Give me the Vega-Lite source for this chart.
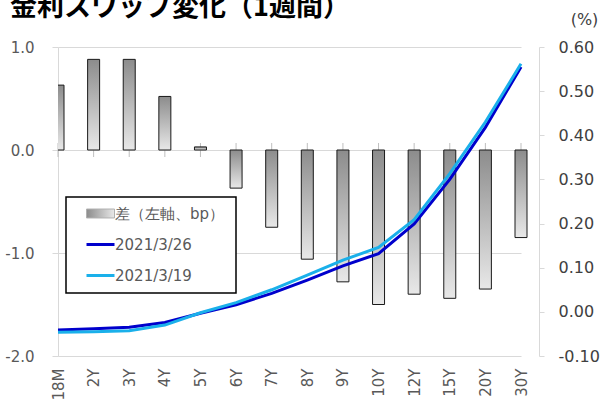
{
  "$schema": "https://vega.github.io/schema/vega-lite/v6.json",
  "width": 481,
  "height": 309,
  "autosize": "none",
  "padding": {"left": 58, "top": 47, "right": 75, "bottom": 45},
  "background": "white",
  "title": {
    "text": "金利スワップ変化（1週間）",
    "anchor": "start",
    "frame": "group",
    "font": "Noto Sans CJK JP",
    "fontSize": 27,
    "fontWeight": "bold",
    "color": "#000000",
    "baseline": "alphabetic",
    "dx": -48,
    "dy": 32,
    "offset": 0
  },
  "config": {
    "view": {"stroke": null},
    "font": "DejaVu Sans",
    "locale": {"number": {"decimal": ".", "thousands": ",", "grouping": [3], "currency": ["$", ""], "minus": "-"}}
  },
  "datasets": {
    "bars": [
      {"tenor": "18M", "diff": 0.63},
      {"tenor": "2Y", "diff": 0.88},
      {"tenor": "3Y", "diff": 0.88},
      {"tenor": "4Y", "diff": 0.52},
      {"tenor": "5Y", "diff": 0.03},
      {"tenor": "6Y", "diff": -0.37},
      {"tenor": "7Y", "diff": -0.75},
      {"tenor": "8Y", "diff": -1.06},
      {"tenor": "9Y", "diff": -1.28},
      {"tenor": "10Y", "diff": -1.5},
      {"tenor": "12Y", "diff": -1.4},
      {"tenor": "15Y", "diff": -1.44},
      {"tenor": "20Y", "diff": -1.35},
      {"tenor": "30Y", "diff": -0.85}
    ],
    "lines": [
      {"tenor": "18M", "series": "2021/3/26", "rate": -0.041},
      {"tenor": "2Y", "series": "2021/3/26", "rate": -0.038},
      {"tenor": "3Y", "series": "2021/3/26", "rate": -0.035},
      {"tenor": "4Y", "series": "2021/3/26", "rate": -0.024},
      {"tenor": "5Y", "series": "2021/3/26", "rate": -0.003},
      {"tenor": "6Y", "series": "2021/3/26", "rate": 0.016},
      {"tenor": "7Y", "series": "2021/3/26", "rate": 0.042},
      {"tenor": "8Y", "series": "2021/3/26", "rate": 0.072},
      {"tenor": "9Y", "series": "2021/3/26", "rate": 0.104},
      {"tenor": "10Y", "series": "2021/3/26", "rate": 0.132},
      {"tenor": "12Y", "series": "2021/3/26", "rate": 0.199},
      {"tenor": "15Y", "series": "2021/3/26", "rate": 0.3},
      {"tenor": "20Y", "series": "2021/3/26", "rate": 0.418},
      {"tenor": "30Y", "series": "2021/3/26", "rate": 0.555},
      {"tenor": "18M", "series": "2021/3/19", "rate": -0.046},
      {"tenor": "2Y", "series": "2021/3/19", "rate": -0.045},
      {"tenor": "3Y", "series": "2021/3/19", "rate": -0.043},
      {"tenor": "4Y", "series": "2021/3/19", "rate": -0.03},
      {"tenor": "5Y", "series": "2021/3/19", "rate": -0.002},
      {"tenor": "6Y", "series": "2021/3/19", "rate": 0.021},
      {"tenor": "7Y", "series": "2021/3/19", "rate": 0.05},
      {"tenor": "8Y", "series": "2021/3/19", "rate": 0.083},
      {"tenor": "9Y", "series": "2021/3/19", "rate": 0.117},
      {"tenor": "10Y", "series": "2021/3/19", "rate": 0.146},
      {"tenor": "12Y", "series": "2021/3/19", "rate": 0.209},
      {"tenor": "15Y", "series": "2021/3/19", "rate": 0.313},
      {"tenor": "20Y", "series": "2021/3/19", "rate": 0.43},
      {"tenor": "30Y", "series": "2021/3/19", "rate": 0.562}
    ]
  },
  "layer": [
    {
      "data": {"name": "bars"},
      "layer": [
        {
          "mark": {"type": "rule", "color": "#bfbfbf", "strokeWidth": 1},
          "encoding": {
            "x": {
              "field": "tenor", "type": "ordinal",
              "scale": {"type": "point", "domain": ["18M","2Y","3Y","4Y","5Y","6Y","7Y","8Y","9Y","10Y","12Y","15Y","20Y","30Y"], "range": [0, 463], "padding": 0},
              "axis": {"orient": "bottom", "title": null, "domain": false, "ticks": false, "tickSize": 0, "labelAngle": -90, "labelPadding": 12, "labelFontSize": 15, "labelColor": "#595959", "grid": false}
            },
            "y": {
              "datum": 0.068, "type": "quantitative",
              "scale": {"domain": [-2, 1]},
              "axis": {"orient": "left", "title": null, "values": [1, 0, -1, -2], "format": ".1f", "grid": true, "gridColor": "#d9d9d9", "domainColor": "#d9d9d9", "tickColor": "#d9d9d9", "tickSize": 6, "labelPadding": 18, "labelFontSize": 15, "labelColor": "#595959"}
            },
            "y2": {"datum": -0.068}
          }
        },
        {
          "mark": {
            "type": "bar", "width": 12, "stroke": "#1a1a1a", "strokeWidth": 1, "clip": true,
            "fill": {"gradient": "linear", "x1": 0, "y1": 0, "x2": 0, "y2": 1, "stops": [{"offset": 0, "color": "#8c8c8c"}, {"offset": 1, "color": "#e8e8e8"}]}
          },
          "encoding": {
            "x": {"field": "tenor", "type": "ordinal"},
            "y": {"field": "diff", "type": "quantitative", "scale": {"domain": [-2, 1]}}
          }
        }
      ]
    },
    {
      "data": {"name": "lines"},
      "mark": {"type": "line", "strokeWidth": 3},
      "encoding": {
        "x": {"field": "tenor", "type": "ordinal"},
        "y": {
          "field": "rate", "type": "quantitative",
          "scale": {"domain": [-0.1, 0.6]},
          "axis": {"orient": "right", "values": [-0.1, 0, 0.1, 0.2, 0.3, 0.4, 0.5, 0.6], "format": ".2f", "grid": false, "domainColor": "#d9d9d9", "tickColor": "#d9d9d9", "tickSize": 5, "labelPadding": 14, "labelFontSize": 16, "labelColor": "#404040", "title": "(%)", "titleAngle": 0, "titleX": 45, "titleY": -28, "titleAlign": "center", "titleBaseline": "middle", "titleFontWeight": "normal", "titleFontSize": 16, "titleColor": "#404040"}
        },
        "color": {
          "field": "series", "type": "nominal",
          "scale": {"domain": ["差（左軸、bp）", "2021/3/26", "2021/3/19"], "range": ["#b0b0b0", "#0000cc", "#1ab0ea"]},
          "legend": {
            "orient": "none", "legendX": 8, "legendY": 150,
            "title": "　　", "titleOrient": "right", "titleFontSize": 14, "titlePadding": 3,
            "direction": "vertical",
            "fillColor": "white", "strokeColor": "#000000", "padding": 9, "symbolOffset": 18,
            "labelFontSize": 15, "labelColor": "#595959", "labelOffset": 7, "rowPadding": 15, "symbolSize": 784,
            "encode": {
              "legend": {"update": {"strokeWidth": {"value": 1.5}}},
              "symbols": {
                "update": {
                  "shape": {"signal": "datum.value === '差（左軸、bp）' ? 'M-1,-0.32H1V0.32H-1Z' : 'stroke'"},
                  "stroke": {"signal": "datum.value === '差（左軸、bp）' ? '#222222' : scale('color', datum.value)"},
                  "strokeWidth": {"signal": "datum.value === '差（左軸、bp）' ? 1 : 3"},
                  "fill": {"signal": "datum.value === '差（左軸、bp）' ? {gradient: 'linear', x1: 0, y1: 0, x2: 1, y2: 0, stops: [{offset: 0, color: '#8c8c8c'}, {offset: 1, color: '#e8e8e8'}]} : 'transparent'"},
                  "opacity": {"value": 1}
                }
              }
            }
          }
        }
      }
    }
  ],
  "resolve": {"scale": {"y": "independent"}}
}
